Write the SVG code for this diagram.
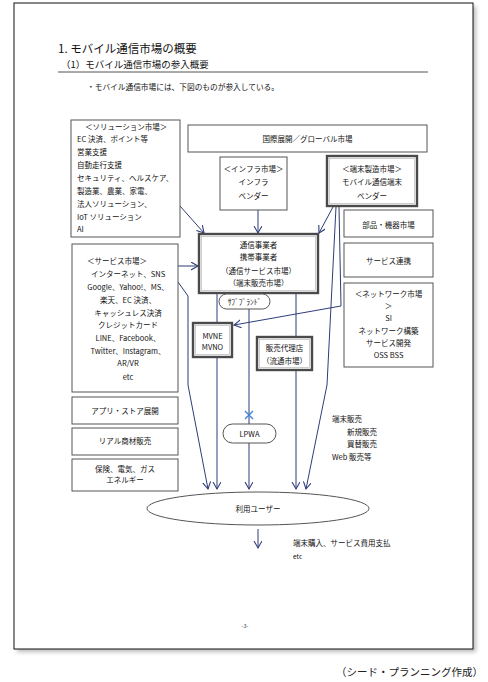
<svg xmlns="http://www.w3.org/2000/svg" width="488" height="682" viewBox="0 0 488 682">
<defs>
<marker id="ah" markerUnits="userSpaceOnUse" markerWidth="10" markerHeight="10" refX="7" refY="4" orient="auto">
<path d="M0,0 L7,4 L0,8" fill="none" stroke="#2e3d78" stroke-width="1.1"/>
</marker>
<filter id="sh" x="-5%" y="-5%" width="110%" height="110%"><feGaussianBlur stdDeviation="2"/></filter>
</defs>
<style>
text{font-family:"Noto Sans CJK JP","Noto Sans",sans-serif;fill:#111}
.t{font-size:7.5px}
.c{text-anchor:middle}
.box{fill:#fff;stroke:#555;stroke-width:1}
.dbl{fill:#fff;stroke:#4a4a4a;stroke-width:2.4}
.dbli{fill:none;stroke:#aaa;stroke-width:0.6}
.rnd{fill:#fff;stroke:#555;stroke-width:1}
.ln{fill:none;stroke:#2e3d78;stroke-width:1}
.lna{fill:none;stroke:#2e3d78;stroke-width:1;marker-end:url(#ah)}
</style>
<rect width="488" height="682" fill="#fff"/>
<g id="page">
<rect x="17" y="6" width="459" height="646" fill="#bbb" filter="url(#sh)"/>
<rect x="14" y="3" width="459" height="646" fill="#fff" stroke="#111" stroke-width="1"/>
</g>
<g id="header">
<text x="58" y="53" style="font-size:11.5px">1. モバイル通信市場の概要</text>
<text x="61" y="68" style="font-size:9.5px">（1）モバイル通信市場の参入概要</text>
<line x1="58" y1="72" x2="428" y2="72" stroke="#555" stroke-width="1"/>
<text x="87" y="90" style="font-size:7.7px">・モバイル通信市場には、下図のものが参入している。</text>
</g>
<g id="connectors">
<line class="lna" x1="180" y1="206" x2="204" y2="233"/>
<line class="lna" x1="178" y1="266" x2="198" y2="266"/>
<line class="lna" x1="258" y1="210" x2="258" y2="233"/>
<line class="lna" x1="333" y1="207" x2="319" y2="233"/>
<polyline class="lna" points="339,207 341,306 234,325"/>
<polyline class="lna" points="336,207 327,385 306,489"/>
<polyline class="lna" points="178,282 188,296 188,385 208,489"/>
<line class="ln" x1="217" y1="294" x2="217" y2="323"/>
<line class="lna" x1="217" y1="357" x2="217" y2="489"/>
<line class="lna" x1="249" y1="309" x2="249" y2="489"/>
<line class="ln" x1="296" y1="294" x2="296" y2="337"/>
<line class="lna" x1="296" y1="370" x2="296" y2="489"/>
<line class="lna" x1="258" y1="529" x2="258" y2="548"/>
<g stroke="#3b7fd6" stroke-width="1.3"><line x1="245" y1="411" x2="253" y2="419"/><line x1="253" y1="411" x2="245" y2="419"/></g>
</g>
<g id="solution">
<rect class="box" x="71" y="120" width="109" height="117"/>
<text class="t" x="85" y="130">＜ソリューション市場＞</text>
<text class="t" x="77" y="142">EC 決済、ポイント等</text>
<text class="t" x="77" y="155">営業支援</text>
<text class="t" x="77" y="168">自動走行支援</text>
<text class="t" x="77" y="181">セキュリティ、ヘルスケア、</text>
<text class="t" x="77" y="194">製造業、農業、家電、</text>
<text class="t" x="77" y="207">法人ソリューション、</text>
<text class="t" x="77" y="220">IoT ソリューション</text>
<text class="t" x="77" y="232">AI</text>
</g>
<g id="global">
<rect class="box" x="188" y="125" width="239" height="27"/>
<text class="t c" x="307.5" y="142">国際展開／グローバル市場</text>
</g>
<g id="infra">
<rect class="box" x="220" y="157" width="67" height="53"/>
<text class="t c" x="253.5" y="172">＜インフラ市場＞</text>
<text class="t c" x="253.5" y="185">インフラ</text>
<text class="t c" x="253.5" y="199">ベンダー</text>
</g>
<g id="terminal">
<rect class="dbl" x="327" y="156" width="90" height="50"/>
<rect class="dbli" x="329.5" y="158.5" width="85" height="45"/>
<text class="t c" x="372" y="172">＜端末製造市場＞</text>
<text class="t c" x="372" y="185">モバイル通信端末</text>
<text class="t c" x="372" y="199">ベンダー</text>
</g>
<g id="parts">
<rect class="box" x="344" y="210" width="89" height="27"/>
<text class="t c" x="388.5" y="228">部品・機器市場</text>
</g>
<g id="svc-link">
<rect class="box" x="344" y="243" width="89" height="34"/>
<text class="t c" x="388.5" y="264">サービス連携</text>
</g>
<g id="network">
<rect class="box" x="344" y="283" width="89" height="84"/>
<text class="t c" x="388.5" y="297">＜ネットワーク市場</text>
<text class="t c" x="388.5" y="309">＞</text>
<text class="t c" x="388.5" y="321">SI</text>
<text class="t c" x="388.5" y="334">ネットワーク構築</text>
<text class="t c" x="388.5" y="346">サービス開発</text>
<text class="t c" x="388.5" y="358">OSS BSS</text>
</g>
<g id="carrier">
<rect class="dbl" x="199" y="234" width="119" height="59"/>
<rect class="dbli" x="201.5" y="236.5" width="114" height="54"/>
<text class="t c" x="258.5" y="248">通信事業者</text>
<text class="t c" x="258.5" y="260">携帯事業者</text>
<text class="t c" x="258.5" y="274">（通信サービス市場）</text>
<text class="t c" x="258.5" y="286">（端末販売市場）</text>
</g>
<g id="subbrand">
<rect class="rnd" x="219" y="294" width="51" height="15" rx="7.5"/>
<text class="t c" x="244.5" y="304.5">ｻﾌﾞﾌﾞﾗﾝﾄﾞ</text>
</g>
<g id="mvne">
<rect class="dbl" x="193" y="323" width="39" height="34"/>
<rect class="dbli" x="195.5" y="325.5" width="34" height="29"/>
<text class="t c" x="212.5" y="339">MVNE</text>
<text class="t c" x="212.5" y="350">MVNO</text>
</g>
<g id="agency">
<rect class="dbl" x="257" y="337" width="55" height="33"/>
<rect class="dbli" x="259.5" y="339.5" width="50" height="28"/>
<text class="t c" x="284.5" y="351">販売代理店</text>
<text class="t c" x="284.5" y="364">（流通市場）</text>
</g>
<g id="service">
<rect class="box" x="72" y="244" width="106" height="148"/>
<text class="t" x="87" y="264">＜サービス市場＞</text>
<text class="t c" x="128" y="277">インターネット、SNS</text>
<text class="t c" x="128" y="290">Google、Yahoo!、MS、</text>
<text class="t c" x="128" y="303">楽天、EC 決済、</text>
<text class="t c" x="128" y="316">キャッシュレス決済</text>
<text class="t c" x="128" y="328">クレジットカード</text>
<text class="t c" x="128" y="341">LINE、Facebook、</text>
<text class="t c" x="128" y="354">Twitter、Instagram、</text>
<text class="t c" x="128" y="366">AR/VR</text>
<text class="t c" x="128" y="380">etc</text>
</g>
<g id="app">
<rect class="box" x="72" y="397" width="106" height="27"/>
<text class="t c" x="125" y="414">アプリ・ストア展開</text>
</g>
<g id="real">
<rect class="box" x="72" y="428" width="106" height="27"/>
<text class="t c" x="125" y="444">リアル商材販売</text>
</g>
<g id="energy">
<rect class="box" x="72" y="459" width="106" height="32"/>
<text class="t c" x="125" y="472">保険、電気、ガス</text>
<text class="t c" x="125" y="483">エネルギー</text>
</g>
<g id="lpwa">
<rect class="rnd" x="223" y="424" width="53" height="19" rx="9.5"/>
<text class="t c" x="249.5" y="436.5">LPWA</text>
</g>
<g id="sales-note">
<text class="t" x="332" y="422">端末販売</text>
<text class="t" x="347" y="435">新規販売</text>
<text class="t" x="347" y="447">買替販売</text>
<text class="t" x="332" y="460">Web 販売等</text>
</g>
<g id="user">
<ellipse cx="258" cy="508.5" rx="111" ry="16.5" fill="#fff" stroke="#555" stroke-width="1"/>
<text class="t c" x="258" y="511.5">利用ユーザー</text>
</g>
<g id="pay-note">
<text class="t" x="293" y="546">端末購入、サービス費用支払</text>
<text class="t" x="293" y="559" style="font-size:6.5px">etc</text>
</g>
<text x="245" y="628" class="c" style="font-size:5.5px;fill:#444">-3-</text>
<text x="483" y="676" style="font-size:10.5px;text-anchor:end;fill:#222">（シード・プランニング作成）</text>
</svg>
